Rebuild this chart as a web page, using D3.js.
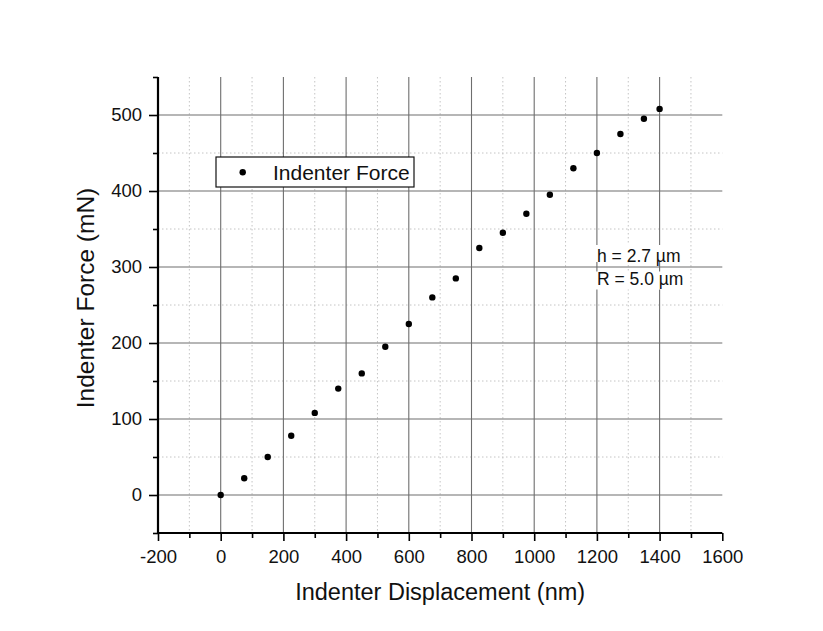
<!DOCTYPE html>
<html>
<head>
<meta charset="utf-8">
<script src="https://cdn.jsdelivr.net/npm/d3@7"></script>
<style>
  html, body { margin: 0; padding: 0; background: #ffffff; }
  svg { display: block; font-family: "Liberation Sans", Arial, sans-serif; }
</style>
</head>
<body>
<svg id="chart" width="823" height="631"></svg>
<script>
// ---- data ----
const displacement = [0, 75, 150, 225, 300, 375, 450, 525, 600, 675, 750, 825, 900, 975, 1050, 1125, 1200, 1275, 1350, 1400];
const force = [0, 22, 50, 78, 108, 140, 160, 195, 225, 260, 285, 325, 345, 370, 395, 430, 450, 475, 495, 508];
const xMajorTicks = [-200, 0, 200, 400, 600, 800, 1000, 1200, 1400, 1600];
const xMinorTicks = [-100, 100, 300, 500, 700, 900, 1100, 1300, 1500];
const yMajorTicks = [0, 100, 200, 300, 400, 500];
const yMinorTicks = [-50, 50, 150, 250, 350, 450, 550];
const xTitle = "Indenter Displacement (nm)";
const yTitle = "Indenter Force (mN)";
const legendLabel = "Indenter Force";
const annotations = ["h = 2.7 \u00b5m", "R = 5.0 \u00b5m"];

// ---- layout ----
const svg = d3.select("#chart");
const L = 158, R = 722.3, T = 77, B = 533;
const x = d3.scaleLinear().domain([-200, 1600]).range([L, R]);
const y = d3.scaleLinear().domain([-50, 550]).range([B, T]);

svg.append("rect").attr("width", 823).attr("height", 631).attr("fill", "#ffffff");

// minor grid (dotted)
const grid = svg.append("g");
grid.selectAll(".vminor").data(xMinorTicks).join("line")
  .attr("x1", d => x(d)).attr("x2", d => x(d)).attr("y1", T).attr("y2", B)
  .attr("stroke", "#c4c4c4").attr("stroke-width", 1).attr("stroke-dasharray", "1.5,2.5");
grid.selectAll(".hminor").data(yMinorTicks.filter(d => d > -50 && d < 550)).join("line")
  .attr("x1", L).attr("x2", R).attr("y1", d => y(d)).attr("y2", d => y(d))
  .attr("stroke", "#c4c4c4").attr("stroke-width", 1).attr("stroke-dasharray", "1.5,2.5");
// major grid (solid)
grid.selectAll(".vmajor").data(xMajorTicks.filter(d => d > -200 && d < 1600)).join("line")
  .attr("x1", d => x(d)).attr("x2", d => x(d)).attr("y1", T).attr("y2", B)
  .attr("stroke", "#6e6e6e").attr("stroke-width", 1.1);
grid.selectAll(".hmajor").data(yMajorTicks).join("line")
  .attr("x1", L).attr("x2", R).attr("y1", d => y(d)).attr("y2", d => y(d))
  .attr("stroke", "#6e6e6e").attr("stroke-width", 1.1);

// annotation (with white background per line)
const annG = svg.append("g");
annotations.forEach((t, i) => {
  const ty = 262 + i * 22.5;
  const txt = annG.append("text").attr("x", 597).attr("y", ty)
    .attr("font-size", 17.5).attr("fill", "#111").text(t);
  const bb = txt.node().getBBox();
  annG.insert("rect", "text").attr("x", bb.x - 2).attr("y", i === 0 ? bb.y - 1 : bb.y + 3)
    .attr("width", bb.width + 6).attr("height", i === 0 ? bb.height - 3 : bb.height - 2)
    .attr("fill", "#ffffff");
});

// axes
const fontTick = 18.5;
const fmt = d => String(d);
const xAxisMajor = d3.axisBottom(x).tickValues(xMajorTicks).tickSize(8).tickPadding(9).tickSizeOuter(0).tickFormat(fmt);
const xAxisMinor = d3.axisBottom(x).tickValues(xMinorTicks).tickSize(5).tickSizeOuter(0).tickFormat("");
const yAxisMajor = d3.axisLeft(y).tickValues(yMajorTicks).tickSize(9).tickPadding(7).tickSizeOuter(0).tickFormat(fmt);
const yAxisMinor = d3.axisLeft(y).tickValues(yMinorTicks).tickSize(5).tickSizeOuter(0).tickFormat("");

function styleAxis(g) {
  g.selectAll("path.domain").attr("stroke", "#000").attr("stroke-width", 2);
  g.selectAll(".tick line").attr("stroke", "#000").attr("stroke-width", 1.6);
  g.selectAll(".tick text").attr("fill", "#111").attr("font-size", fontTick)
    .attr("font-family", "Liberation Sans, Arial, sans-serif");
}
const gx = svg.append("g").attr("transform", `translate(0,${B})`);
gx.append("g").call(xAxisMinor).call(styleAxis);
gx.append("g").call(xAxisMajor).call(styleAxis);
const gy = svg.append("g").attr("transform", `translate(${L},0)`);
gy.append("g").call(yAxisMinor).call(styleAxis);
gy.append("g").call(yAxisMajor).call(styleAxis);
svg.selectAll("path.domain").attr("d", null);
// axis lines
svg.append("line").attr("x1", L).attr("x2", R).attr("y1", B).attr("y2", B).attr("stroke", "#000").attr("stroke-width", 2.2);
svg.append("line").attr("x1", L).attr("x2", L).attr("y1", T).attr("y2", B + 1).attr("stroke", "#000").attr("stroke-width", 2.2);

// data points
svg.append("g").selectAll("circle").data(displacement.map((d, i) => [d, force[i]])).join("circle")
  .attr("cx", d => x(d[0])).attr("cy", d => y(d[1])).attr("r", 3.2).attr("fill", "#000");

// legend
const lg = svg.append("g");
lg.append("rect").attr("x", 216).attr("y", 157).attr("width", 198).attr("height", 30)
  .attr("fill", "#ffffff").attr("stroke", "#111").attr("stroke-width", 1.2);
lg.append("circle").attr("cx", 242.7).attr("cy", 172.3).attr("r", 3.2).attr("fill", "#000");
lg.append("text").attr("x", 273).attr("y", 179.5).attr("font-size", 21).attr("fill", "#111").text(legendLabel);

// titles
svg.append("text").attr("x", (L + R) / 2).attr("y", 600).attr("text-anchor", "middle")
  .attr("font-size", 23.5).attr("fill", "#111").text(xTitle);
svg.append("text").attr("transform", `translate(94,298) rotate(-90)`).attr("text-anchor", "middle")
  .attr("font-size", 24.5).attr("fill", "#111").text(yTitle);
</script>
</body>
</html>
